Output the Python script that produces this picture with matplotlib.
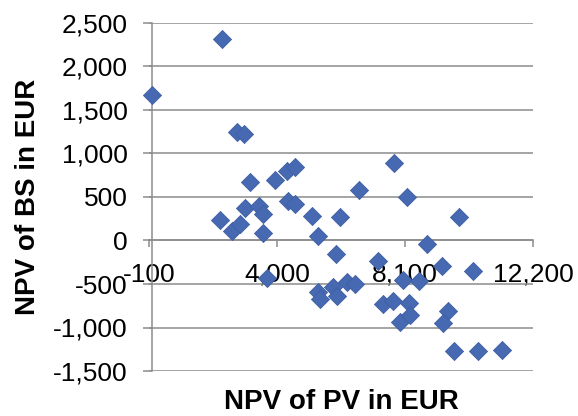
#!/usr/bin/env python3
# NPV of BS vs NPV of PV scatter (Excel style, axes crossing at zero)
import matplotlib
matplotlib.use('Agg')
import matplotlib.pyplot as plt
from matplotlib.ticker import FuncFormatter

plt.rcParams['font.family'] = ['Liberation Sans', 'DejaVu Sans']
plt.rcParams['axes.unicode_minus'] = False

# data
npv_pv = [0, 2240, 2730, 2950, 3140, 3940, 4330, 4580, 6640, 7750,
          8160, 9830, 8790, 2170, 2550, 2820, 2990, 3430, 3560, 3560,
          4360, 4580, 5110, 6020, 5300, 5890, 7245, 3670, 9270, 10290,
          8020, 8540, 5300, 5380, 5800, 5930, 6230, 6510, 7380, 7730,
          8230, 7930, 8260, 9490, 9320, 9670, 10450, 11210]
npv_bs = [1670, 2320, 1250, 1225, 670, 700, 795, 840, 585, 890,
          505, 265, -45, 235, 105, 190, 375, 400, 300, 90,
          450, 425, 280, 265, 50, -160, -240, -430, -290, -350,
          -450, -465, -590, -675, -530, -640, -475, -505, -735, -690,
          -718, -940, -855, -805, -944, -1265, -1270, -1255]

x_ticks = [-100, 4000, 8100, 12200]
y_ticks = [-1500, -1000, -500, 0, 500, 1000, 1500, 2000, 2500]

grey = '#8c8c8c'
blue = '#4769b2'

fig = plt.figure(figsize=(5.78, 4.16), dpi=100)
ax = fig.add_axes([149 / 578, 45 / 416, 384 / 578, 348 / 416])

ax.scatter(npv_pv, npv_bs, marker='D', s=85, color=blue,
           edgecolors='#3f5fa3', linewidths=0.6, zorder=3, clip_on=False)

ax.set_xlim(-100, 12200)
ax.set_ylim(-1500, 2500)
ax.set_xticks(x_ticks)
ax.set_yticks(y_ticks)
fmt = FuncFormatter(lambda v, pos: format(int(round(v)), ','))
ax.xaxis.set_major_formatter(fmt)
ax.yaxis.set_major_formatter(fmt)

ax.set_axisbelow(True)
ax.yaxis.grid(True, color=grey, linewidth=1.1)
ax.xaxis.grid(False)

for s in ('top', 'right'):
    ax.spines[s].set_visible(False)
ax.spines['left'].set_position(('data', 0))
ax.spines['bottom'].set_position(('data', 0))
ax.spines['left'].set_color(grey)
ax.spines['bottom'].set_color(grey)
ax.spines['left'].set_linewidth(1.1)
ax.spines['bottom'].set_linewidth(1.1)

ax.tick_params(axis='y', direction='out', length=6.5, width=1.1, color=grey,
               labelsize=19, pad=11)
ax.tick_params(axis='x', direction='out', length=5, width=1.1, color=grey,
               labelsize=19, pad=11)

ax.set_xlabel('NPV of PV in EUR', fontsize=20, fontweight='bold')
ax.set_ylabel('NPV of BS in EUR', fontsize=20, fontweight='bold')
ax.xaxis.set_label_coords(0.5, -0.052)
ax.yaxis.set_label_coords(-0.28, 0.5)

fig.savefig('out.png', dpi=100)
